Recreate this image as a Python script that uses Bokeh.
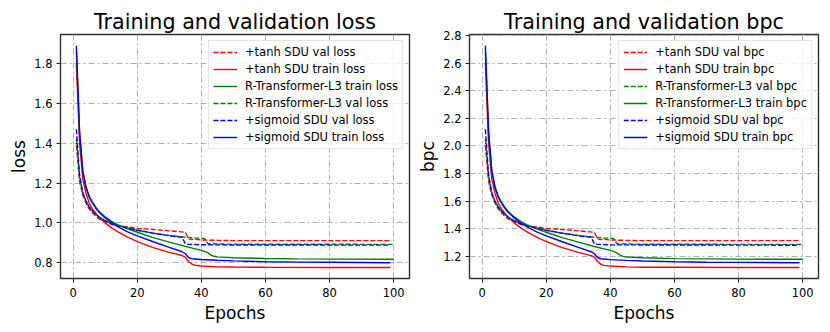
from bokeh.plotting import figure
from bokeh.layouts import row
from bokeh.models import Range1d, FixedTicker, PrintfTickFormatter, Legend, LegendItem
from bokeh.embed import file_html
from bokeh.resources import INLINE

# ---------------- data ----------------
tanh_train_epochs = [1, 2, 3, 4, 5, 6, 7, 8, 10, 12, 14, 17, 20, 25, 30, 34, 35, 36, 37, 38, 40, 45, 50, 60, 80, 99]
tanh_train_loss = [1.80, 1.40, 1.22, 1.15, 1.10, 1.07, 1.05, 1.03, 1.00, 0.975, 0.955, 0.928, 0.906, 0.876, 0.852,
                   0.836, 0.828, 0.806, 0.793, 0.787, 0.783, 0.779, 0.778, 0.777, 0.776, 0.776]
tanh_train_bpc = [2.597, 2.020, 1.760, 1.659, 1.587, 1.544, 1.515, 1.486, 1.443, 1.407, 1.378, 1.339, 1.307, 1.264,
                  1.229, 1.206, 1.195, 1.163, 1.144, 1.135, 1.130, 1.124, 1.122, 1.121, 1.120, 1.120]

tanh_val_epochs = [1, 2, 3, 4, 5, 6, 7, 8, 10, 12, 14, 17, 20, 25, 30, 35, 36, 37, 38, 40, 45, 50, 99]
tanh_val_loss = [1.39, 1.21, 1.14, 1.10, 1.07, 1.05, 1.035, 1.02, 1.005, 0.993, 0.985, 0.98, 0.972, 0.967, 0.96,
                 0.953, 0.92, 0.916, 0.918, 0.914, 0.912, 0.911, 0.911]
tanh_val_bpc = [2.005, 1.746, 1.645, 1.587, 1.544, 1.515, 1.493, 1.472, 1.450, 1.433, 1.421, 1.414, 1.402, 1.395,
                1.385, 1.375, 1.327, 1.322, 1.324, 1.319, 1.316, 1.314, 1.314]

sig_train_epochs = [1, 2, 3, 4, 5, 6, 7, 8, 10, 12, 14, 17, 20, 25, 30, 34, 35, 36, 37, 40, 45, 50, 60, 70, 80, 99]
sig_train_loss = [1.89, 1.46, 1.26, 1.18, 1.13, 1.10, 1.075, 1.055, 1.025, 1.0, 0.98, 0.955, 0.935, 0.905, 0.877,
                  0.855, 0.845, 0.826, 0.82, 0.816, 0.812, 0.809, 0.805, 0.803, 0.802, 0.80]
sig_train_bpc = [2.727, 2.106, 1.818, 1.702, 1.630, 1.587, 1.551, 1.522, 1.479, 1.443, 1.414, 1.378, 1.349, 1.306,
                 1.265, 1.234, 1.219, 1.192, 1.183, 1.177, 1.171, 1.167, 1.161, 1.158, 1.157, 1.154]

sig_val_epochs = [1, 2, 3, 4, 5, 6, 7, 8, 10, 12, 14, 17, 20, 25, 30, 34, 35, 36, 40, 50, 99]
sig_val_loss = [1.47, 1.24, 1.15, 1.11, 1.08, 1.06, 1.045, 1.03, 1.01, 0.995, 0.985, 0.973, 0.963, 0.948, 0.935,
                0.928, 0.895, 0.892, 0.890, 0.889, 0.888]
sig_val_bpc = [2.121, 1.789, 1.659, 1.601, 1.558, 1.529, 1.508, 1.486, 1.457, 1.435, 1.421, 1.404, 1.389, 1.368,
               1.349, 1.339, 1.291, 1.287, 1.284, 1.283, 1.281]

rt_train_epochs = [1, 2, 3, 4, 5, 6, 7, 8, 10, 12, 14, 17, 20, 25, 30, 35, 40, 41, 42, 43, 44, 45, 50, 60, 70, 80, 100]
rt_train_loss = [1.86, 1.45, 1.26, 1.18, 1.135, 1.105, 1.08, 1.06, 1.03, 1.008, 0.99, 0.97, 0.953, 0.926, 0.903,
                 0.882, 0.862, 0.857, 0.85, 0.838, 0.832, 0.829, 0.825, 0.821, 0.819, 0.818, 0.817]
rt_train_bpc = [2.683, 2.092, 1.818, 1.702, 1.637, 1.594, 1.558, 1.529, 1.486, 1.454, 1.428, 1.399, 1.375, 1.336,
                1.303, 1.272, 1.244, 1.236, 1.226, 1.209, 1.200, 1.196, 1.190, 1.184, 1.182, 1.180, 1.179]

rt_val_epochs = [1, 2, 3, 4, 5, 6, 7, 8, 10, 12, 14, 17, 20, 25, 30, 35, 38, 40, 41, 42, 45, 50, 100]
rt_val_loss = [1.42, 1.23, 1.15, 1.11, 1.08, 1.06, 1.045, 1.03, 1.012, 0.998, 0.988, 0.975, 0.963, 0.948, 0.937,
               0.928, 0.924, 0.923, 0.921, 0.896, 0.894, 0.893, 0.892]
rt_val_bpc = [2.049, 1.775, 1.659, 1.601, 1.558, 1.529, 1.508, 1.486, 1.460, 1.440, 1.425, 1.407, 1.389, 1.368,
              1.352, 1.339, 1.333, 1.332, 1.329, 1.293, 1.290, 1.288, 1.287]

x_ticks = [0, 20, 40, 60, 80, 100]
loss_ticks = [0.8, 1.0, 1.2, 1.4, 1.6, 1.8]
bpc_ticks = [1.2, 1.4, 1.6, 1.8, 2.0, 2.2, 2.4, 2.6, 2.8]

FONT = "DejaVu Sans"
RED, GREEN, BLUE = "#ff0000", "#008000", "#0000ff"
DASH = "5 2"


def make_fig(title, ylabel, yr, yticks, series, border_left, border_right):
    p = figure(frame_width=349, frame_height=244, x_range=Range1d(-3.95, 104.95), y_range=Range1d(*yr),
               output_backend="svg", toolbar_location=None,
               min_border_left=border_left, min_border_right=border_right,
               min_border_top=34, min_border_bottom=44)
    p.title.text = title
    p.title.align = "center"
    p.title.text_font = FONT
    p.title.text_font_size = "20.7px"
    p.title.text_font_style = "normal"
    p.title.text_color = "#000000"
    p.title.standoff = 2

    p.outline_line_color = "#333333"
    p.outline_line_width = 1.4
    p.outline_line_alpha = 1.0

    for ax in (p.xaxis[0], p.yaxis[0]):
        ax.axis_line_color = None
        ax.major_tick_line_color = "#222222"
        ax.major_tick_out = 4
        ax.major_tick_in = 0
        ax.minor_tick_line_color = None
        ax.major_label_text_font = FONT
        ax.major_label_text_font_size = "11.5px"
        ax.major_label_text_color = "#000000"
        ax.axis_label_text_font = FONT
        ax.axis_label_text_font_size = "17px"
        ax.axis_label_text_font_style = "normal"
        ax.axis_label_text_color = "#000000"
    p.xaxis[0].ticker = FixedTicker(ticks=x_ticks)
    p.yaxis[0].ticker = FixedTicker(ticks=yticks)
    p.yaxis[0].formatter = PrintfTickFormatter(format="%.1f")
    p.xaxis[0].axis_label = "Epochs"
    p.yaxis[0].axis_label = ylabel
    p.xaxis[0].axis_label_standoff = 3
    p.yaxis[0].axis_label_standoff = 2
    p.xaxis[0].major_label_standoff = 5
    p.yaxis[0].major_label_standoff = 4

    for g in (p.xgrid[0], p.ygrid[0]):
        g.grid_line_color = "#b0b0b0"
        g.grid_line_dash = "6 3 2 3"
        g.grid_line_width = 1.0

    items = []
    for label, xs, ys, color, dashed in series:
        r = p.line(xs, ys, line_color=color, line_width=1.4,
                   line_dash=DASH if dashed else "solid")
        items.append(LegendItem(label=label, renderers=[r]))

    legend = Legend(items=items, location="top_right")
    legend.margin = 6
    legend.padding = 4
    legend.spacing = 3
    legend.label_height = 14
    legend.glyph_height = 14
    legend.glyph_width = 24
    legend.label_standoff = 8
    legend.label_text_font = FONT
    legend.label_text_font_size = "11.5px"
    legend.label_text_color = "#000000"
    legend.border_line_color = "#cccccc"
    legend.border_line_width = 1
    legend.background_fill_color = "#ffffff"
    legend.background_fill_alpha = 0.8
    p.add_layout(legend)
    return p


left_series = [
    ("+tanh SDU val loss", tanh_val_epochs, tanh_val_loss, RED, True),
    ("+tanh SDU train loss", tanh_train_epochs, tanh_train_loss, RED, False),
    ("R-Transformer-L3 train loss", rt_train_epochs, rt_train_loss, GREEN, False),
    ("R-Transformer-L3 val loss", rt_val_epochs, rt_val_loss, GREEN, True),
    ("+sigmoid SDU val loss", sig_val_epochs, sig_val_loss, BLUE, True),
    ("+sigmoid SDU train loss", sig_train_epochs, sig_train_loss, BLUE, False),
]
right_series = [
    ("+tanh SDU val bpc", tanh_val_epochs, tanh_val_bpc, RED, True),
    ("+tanh SDU train bpc", tanh_train_epochs, tanh_train_bpc, RED, False),
    ("R-Transformer-L3 val bpc", rt_val_epochs, rt_val_bpc, GREEN, True),
    ("R-Transformer-L3 train bpc", rt_train_epochs, rt_train_bpc, GREEN, False),
    ("+sigmoid SDU val bpc", sig_val_epochs, sig_val_bpc, BLUE, True),
    ("+sigmoid SDU train bpc", sig_train_epochs, sig_train_bpc, BLUE, False),
]

p1 = make_fig("Training and validation loss", "loss", (0.7205, 1.9465), loss_ticks, left_series, 60, 6)
p2 = make_fig("Training and validation bpc", "bpc", (1.040, 2.807), bpc_ticks, right_series, 53, 4)

layout = row(p1, p2)
open("out.html", "w").write(file_html(layout, INLINE))
